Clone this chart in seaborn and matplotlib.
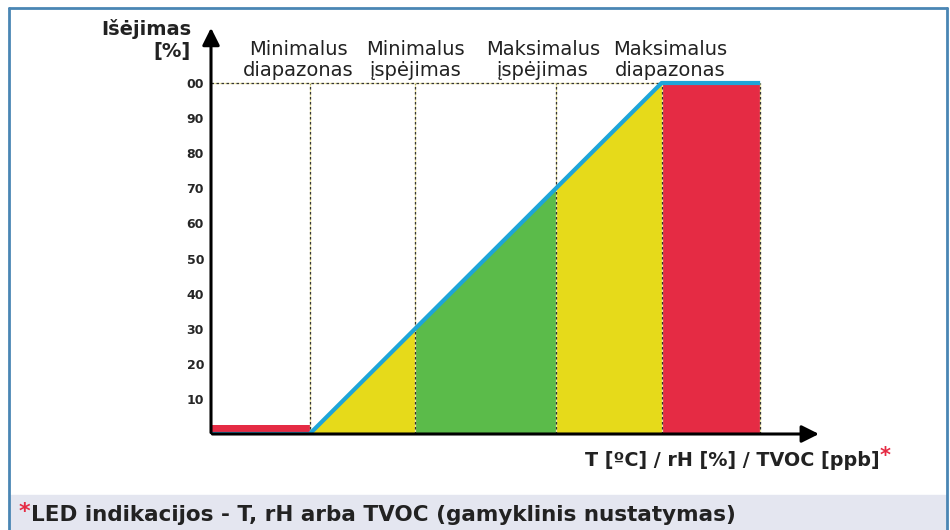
import numpy as np
import pandas as pd
import matplotlib
matplotlib.use('Agg')
import matplotlib.pyplot as plt
import seaborn as sns
from matplotlib.lines import Line2D
from matplotlib.patches import Rectangle

sns.set_style('white')
plt.rcParams['font.family'] = ['DejaVu Sans']

# zone edges along the input axis (arbitrary units) and their colours
zone_edges = [0, 28, 58, 98, 128, 156]
zone_colors = ['#e52b44', '#e6da1a', '#5bbb4a', '#e6da1a', '#e52b44']
zone_titles = ['Minimalus\ndiapazonas', 'Minimalus\nįspėjimas',
               'Maksimalus\nįspėjimas', 'Maksimalus\ndiapazonas']
title_x = [24.7, 58, 94.3, 130.4]

# output curve
curve_x = [0, 28, 128, 156]
curve_y = [0, 0, 100, 100]
low_bar_height = 2.5

y_ticks = [10, 20, 30, 40, 50, 60, 70, 80, 90, 100]
y_ticklabels = ['10', '20', '30', '40', '50', '60', '70', '80', '90', '00']

W, H = 950, 530
fig = plt.figure(figsize=(W / 100, H / 100), dpi=100)
px = 3.52
ax = fig.add_axes([211 / W, (H - 434) / H, 173.5 * px / W, 116.5 * 3.51 / H])
ax.set_xlim(0, 173.5)
ax.set_ylim(0, 116.5)
for s in ax.spines.values():
    s.set_visible(False)

# coloured zones under the curve
for i, c in enumerate(zone_colors):
    xs = np.linspace(zone_edges[i], zone_edges[i + 1], 50)
    if i == 0:
        ax.fill_between(xs, 0, low_bar_height, color=c, lw=0)
    else:
        ax.fill_between(xs, 0, np.interp(xs, curve_x, curve_y), color=c, lw=0)

# dotted guide lines
for e in zone_edges[1:]:
    ax.plot([e, e], [0, 100], color='#e8e2a0', lw=0.9, zorder=3)
    ax.plot([e, e], [0, 100], color='#333333', lw=0.9, ls=(0, (2, 2)), zorder=3)
ax.plot([0, 128], [100, 100], color='#e8e2a0', lw=0.9, zorder=3)
ax.plot([0, 128], [100, 100], color='#333333', lw=0.9, ls=(0, (2, 2)), zorder=3)

df = pd.DataFrame({'x': curve_x, 'y': curve_y})
sns.lineplot(data=df, x='x', y='y', color='#1ea5d8', lw=3, ax=ax, zorder=5,
             solid_capstyle='butt')

# axes arrows
ax.annotate('', xy=(0, 116.5), xytext=(0, -0.4),
            arrowprops=dict(arrowstyle='-|>', mutation_scale=26, color='black', lw=2.2),
            annotation_clip=False, zorder=6)
ax.annotate('', xy=(173.5, 0), xytext=(-0.4, 0),
            arrowprops=dict(arrowstyle='-|>', mutation_scale=26, color='black', lw=2.2),
            annotation_clip=False, zorder=6)

ax.set_xticks([])
ax.set_yticks(y_ticks)
ax.set_yticklabels(y_ticklabels, fontsize=9, fontweight='bold')
ax.tick_params(axis='y', length=0, pad=5)
ax.set_xlabel('')
ax.set_ylabel('')

for tx, t in zip(title_x, zone_titles):
    ax.text(tx, 106.6, t, ha='center', va='center', fontsize=14,
            color='#222222', linespacing=1.12, clip_on=False)

fig.text(191 / W, 1 - 40 / H, 'Išėjimas\n[%]', ha='right', va='center',
         fontsize=14, fontweight='bold', color='#222222', linespacing=1.15)

fig.text(880 / W, 1 - 460 / H, 'T [ºC] / rH [%] / TVOC [ppb]', ha='right',
         va='center', fontsize=13.8, fontweight='bold', color='#222222')
fig.text(880 / W, 1 - 456 / H, '*', ha='left', va='center', fontsize=15,
         fontweight='bold', color='#e52b44')

# footer band
fig.patches.append(Rectangle((10 / W, 0), 937 / W, 35 / H, transform=fig.transFigure,
                             color='#e4e6f0', zorder=0))
fig.text(19 / W, 1 - 512 / H, '*', ha='left', va='center', fontsize=16,
         fontweight='bold', color='#e52b44')
fig.text(31 / W, 1 - 515 / H, 'LED indikacijos - T, rH arba TVOC (gamyklinis nustatymas)',
         ha='left', va='center', fontsize=15.5, fontweight='bold', color='#222222')

# frame
bc = '#4a86b4'
fig.lines.append(Line2D([9 / W, 9 / W], [0, 1 - 8 / H], transform=fig.transFigure, color=bc, lw=2))
fig.lines.append(Line2D([9 / W, 947 / W], [1 - 8 / H, 1 - 8 / H], transform=fig.transFigure, color=bc, lw=2))
fig.lines.append(Line2D([947 / W, 947 / W], [0, 1 - 8 / H], transform=fig.transFigure, color=bc, lw=2))

fig.savefig('out.png', dpi=100)
